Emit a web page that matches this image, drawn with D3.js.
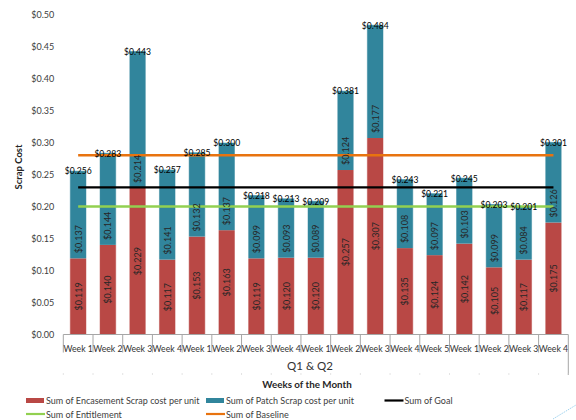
<!DOCTYPE html>
<html>
<head>
<meta charset="utf-8">
<script src="https://cdn.jsdelivr.net/npm/d3@7"></script>
<style>
  html, body { margin: 0; padding: 0; background: #fff; }
  svg { display: block; font-family: Lato, "Open Sans", sans-serif; }
</style>
</head>
<body>
<svg id="chart" width="576" height="420"></svg>
<script>
// Week labels along the category axis
const weeks = ["Week 1","Week 2","Week 3","Week 4","Week 1","Week 2","Week 3","Week 4",
               "Week 1","Week 2","Week 3","Week 4","Week 5","Week 1","Week 2","Week 3","Week 4"];
// Encasement scrap cost per unit (lower segment)
const encasement = [0.119,0.140,0.229,0.117,0.153,0.163,0.119,0.120,0.120,0.257,0.307,0.135,0.124,0.142,0.105,0.117,0.175];
// Patch scrap cost per unit (upper segment)
const patch = [0.137,0.144,0.214,0.141,0.132,0.137,0.099,0.093,0.089,0.124,0.177,0.108,0.097,0.103,0.099,0.084,0.126];
// Stated totals shown above each column
const totals = [0.256,0.283,0.443,0.257,0.285,0.300,0.218,0.213,0.209,0.381,0.484,0.243,0.221,0.245,0.203,0.201,0.301];
// Reference levels
const goal = 0.23;
const entitlement = 0.20;
const baseline = 0.28;
const yTicks = [0,0.05,0.10,0.15,0.20,0.25,0.30,0.35,0.40,0.45,0.50];

const C_RED = "#B94845", C_TEAL = "#31859C", C_ORANGE = "#E8730F", C_GREEN = "#92D050", C_BLACK = "#000";
const fmt = d3.format("$.3f");
const fmt2 = d3.format("$.2f");

const svg = d3.select("#chart");
const plotLeft = 63.3, plotRight = 568.3, plotTop = 14.5, plotBottom = 334.5;

const x = d3.scaleBand().domain(d3.range(weeks.length)).range([plotLeft, plotRight])
  .paddingInner(0.44).paddingOuter(0.22);
const y = d3.scaleLinear().domain([0, 0.5]).range([plotBottom, plotTop]);
const step = x.step();
const cx = i => x(i) + x.bandwidth() / 2;

// Y axis labels (no axis line)
const yAxis = svg.append("g").attr("transform", `translate(${plotLeft},0)`)
  .call(d3.axisLeft(y).tickValues(yTicks).tickFormat(fmt2).tickSize(0).tickPadding(9));
yAxis.select(".domain").remove();
yAxis.selectAll("text").attr("font-family", "Lato, sans-serif").attr("font-size", 9).attr("fill", "#404040");

// Stacked columns
const seg = svg.append("g");
weeks.forEach((w, i) => {
  seg.append("rect").attr("x", x(i)).attr("width", x.bandwidth())
    .attr("y", y(encasement[i])).attr("height", y(0) - y(encasement[i]))
    .attr("fill", C_RED);
  seg.append("rect").attr("x", x(i)).attr("width", x.bandwidth())
    .attr("y", y(encasement[i] + patch[i])).attr("height", y(encasement[i]) - y(encasement[i] + patch[i]))
    .attr("fill", C_TEAL);
  seg.append("rect").attr("x", x(i)).attr("width", x.bandwidth())
    .attr("y", y(encasement[i] + patch[i])).attr("height", y(0) - y(encasement[i] + patch[i]))
    .attr("fill", "none").attr("stroke", "rgba(255,255,255,0.55)").attr("stroke-width", 1);
});

// Category axis with separators
const xg = svg.append("g");
xg.append("line").attr("x1", plotLeft).attr("x2", plotRight).attr("y1", plotBottom).attr("y2", plotBottom)
  .attr("stroke", "#a6a6a6").attr("stroke-width", 1);
d3.range(weeks.length + 1).forEach(k => {
  const xx = plotLeft + k * step;
  xg.append("line").attr("x1", xx).attr("x2", xx).attr("y1", plotBottom)
    .attr("y2", k === weeks.length ? 375 : 352.5)
    .attr("stroke", "#a6a6a6").attr("stroke-width", 1);
  xg.append("rect").attr("x", xx - 0.5).attr("y", 373.5).attr("width", 1).attr("height", 1).attr("fill", "#c8c8c8");
});
xg.selectAll("text.wk").data(weeks).join("text").attr("class", "wk")
  .attr("x", (d, i) => cx(i)).attr("y", 348.5)
  .attr("text-anchor", "middle").attr("dominant-baseline", "central")
  .attr("font-size", 8.7).attr("fill", "#333").text(d => d);
xg.append("text").attr("x", 310).attr("y", 365).attr("text-anchor", "middle")
  .attr("dominant-baseline", "central").attr("font-size", 11.5).attr("fill", "#333").text("Q1 & Q2");

// Reference lines spanning first to last column centre
const line = d3.line().x(d => d[0]).y(d => y(d[1]));
[[baseline, C_ORANGE, 2.5], [goal, C_BLACK, 2.2], [entitlement, C_GREEN, 2.5]].forEach(([v, c, w]) => {
  svg.append("path").attr("d", line([[cx(0), v], [cx(weeks.length - 1), v]]))
    .attr("stroke", c).attr("stroke-width", w).attr("fill", "none");
});

// Segment value labels
const lab = svg.append("g").attr("font-size", 9).attr("fill", "#262626");
weeks.forEach((w, i) => {
  const ym = (y(0) + y(encasement[i])) / 2;
  lab.append("text").attr("transform", `translate(${cx(i)},${ym}) rotate(-90)`)
    .attr("text-anchor", "middle").attr("dominant-baseline", "central").text(fmt(encasement[i]));
  const yb = y(encasement[i]) - 5;
  lab.append("text").attr("transform", `translate(${cx(i)},${yb}) rotate(-90)`)
    .attr("text-anchor", "start").attr("dominant-baseline", "central").text(fmt(patch[i]));
});

// Total labels centred on the column tops
svg.append("g").selectAll("text").data(totals).join("text")
  .attr("x", (d, i) => cx(i)).attr("y", (d, i) => y(encasement[i] + patch[i]) + 0.8)
  .attr("text-anchor", "middle").attr("dominant-baseline", "central")
  .attr("font-size", 8.6).attr("fill", "#000").text(d => fmt(d));

// Axis titles
svg.append("text").attr("transform", "translate(18,167) rotate(-90)")
  .attr("text-anchor", "middle").attr("dominant-baseline", "central")
  .attr("font-size", 9.5).attr("font-weight", "bold").attr("fill", "#262626").text("Scrap Cost");
svg.append("text").attr("x", 307).attr("y", 383.5).attr("text-anchor", "middle")
  .attr("dominant-baseline", "central").attr("font-size", 9.8).attr("font-weight", "bold")
  .attr("fill", "#262626").text("Weeks of the Month");

// Legend
const legend = [
  {label: "Sum of Encasement Scrap cost per unit", color: C_RED, kind: "rect", lx: 26, ly: 400.5},
  {label: "Sum of Patch Scrap cost per unit", color: C_TEAL, kind: "rect", lx: 206, ly: 400.5},
  {label: "Sum of Goal", color: C_BLACK, kind: "line", lx: 384.5, ly: 400.5},
  {label: "Sum of Entitlement", color: C_GREEN, kind: "line", lx: 26, ly: 414},
  {label: "Sum of Baseline", color: C_ORANGE, kind: "line", lx: 206, ly: 414}
];
const lg = svg.append("g");
legend.forEach(d => {
  if (d.kind === "rect") {
    lg.append("rect").attr("x", d.lx).attr("y", d.ly - 2.5).attr("width", 18).attr("height", 5).attr("fill", d.color);
  } else {
    lg.append("line").attr("x1", d.lx).attr("x2", d.lx + 19).attr("y1", d.ly).attr("y2", d.ly)
      .attr("stroke", d.color).attr("stroke-width", 2.2);
  }
  lg.append("text").attr("x", d.lx + 20).attr("y", d.ly).attr("dominant-baseline", "central")
    .attr("font-size", 9).attr("fill", "#404040").text(d.label);
});

// Faint dashed stroke at the lower right corner
svg.append("line").attr("x1", 553).attr("y1", 419).attr("x2", 576).attr("y2", 405)
  .attr("stroke", "#9fd3ef").attr("stroke-width", 1).attr("stroke-dasharray", "1.5,1");
</script>
</body>
</html>
